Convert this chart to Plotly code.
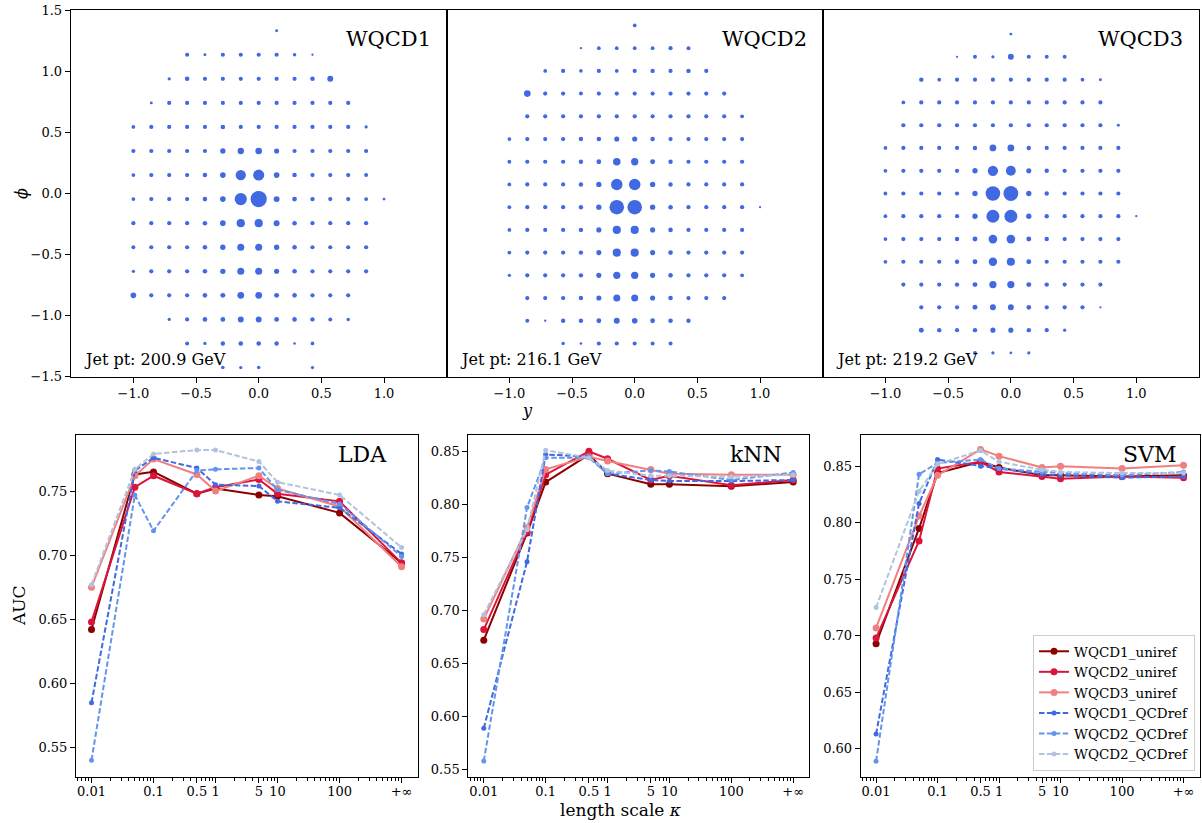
import math
import plotly.graph_objects as go

# ---------------- top row: jet images ----------------
COL_Y = [-1.0, -0.857, -0.714, -0.571, -0.429, -0.286, -0.143, 0.0,
         0.143, 0.286, 0.429, 0.571, 0.714, 0.857, 1.0]

PHI_1 = [1.333, 1.136, 0.939, 0.742, 0.545, 0.348, 0.151, -0.046,
         -0.243, -0.440, -0.637, -0.834, -1.031, -1.228, -1.425]
PT_1 = [
    [0, 0, 0, 0, 0, 0, 0, 0, 0.5, 0, 0, 0, 0, 0, 0],
    [0, 0, 0, 1, 0.5, 1, 1, 1, 1, 0.7, 0.3, 0, 0, 0, 0],
    [0, 0, 0.6, 1.2, 1, 1, 1, 1, 1, 1, 1.2, 2, 0, 0, 0],
    [0, 0.5, 1, 1, 1, 1, 1, 1, 1, 1, 1, 1, 1, 0, 0],
    [0.8, 1, 1, 1, 1, 1.2, 1, 1, 1, 1, 1, 1, 1, 0.6, 0],
    [1, 1, 1, 1, 1, 1.6, 2.3, 2.5, 1.5, 1, 1, 1, 1, 1, 0],
    [0.8, 1, 1, 1, 1.2, 1.8, 6, 7, 1.8, 1.2, 1, 1, 1, 0.9, 0],
    [0.8, 1, 1, 1, 1.2, 1.8, 8.5, 15, 2, 1.3, 1.1, 1, 1, 0.9, 0.5],
    [1, 1, 1, 1, 1.2, 1.8, 3.8, 3.8, 2, 1.2, 1, 1, 1, 1, 0],
    [0.9, 1, 1, 1, 1.2, 1.6, 2.8, 2.8, 1.6, 1.2, 1, 1, 1, 1, 0],
    [0.6, 1, 1, 1, 1.2, 1.6, 2.8, 2.8, 1.5, 1.2, 1, 1, 1, 1, 0],
    [1.8, 1, 1, 1, 1.2, 1.4, 2.6, 2.6, 1.4, 1.2, 1, 1, 1, 0, 0],
    [0, 0, 0.6, 1, 1.2, 1.3, 2, 2, 1.3, 1.2, 1.1, 0.9, 0.7, 0, 0],
    [0, 0, 0, 0.9, 0.6, 1.1, 1.2, 1.2, 1.1, 0.4, 0.8, 0, 0, 0, 0],
    [0, 0, 0, 0, 0, 0.7, 0.6, 0.7, 0, 0, 0.6, 0, 0, 0, 0],
]

PHI_2 = [1.376, 1.190, 1.004, 0.818, 0.632, 0.446, 0.260, 0.074,
         -0.112, -0.298, -0.484, -0.670, -0.856, -1.042, -1.228]
PT_2 = [
    [0, 0, 0, 0, 0, 0, 0, 0.8, 0, 0, 0, 0, 0, 0, 0],
    [0, 0, 0, 0, 0.3, 0.8, 0.8, 0.8, 0.8, 1, 0.9, 0, 0, 0, 0],
    [0, 0, 0.8, 1, 0.7, 1, 0.8, 1, 1.1, 1, 1.1, 1, 0, 0, 0],
    [0, 2.5, 1, 1, 0.9, 1, 1, 1, 1, 1, 1, 1, 1, 0, 0],
    [0, 1, 1, 1, 1, 1, 1, 1, 1, 1, 1, 1, 1, 0.8, 0],
    [0.8, 1, 1, 1, 1.1, 1.2, 1.5, 1.5, 1.2, 1, 1, 1, 1, 1, 0],
    [0.8, 1, 1, 1, 1.1, 1.3, 3.2, 3, 1.4, 1.1, 1, 1, 1, 1, 0],
    [0.8, 1, 1, 1, 1.1, 1.6, 7.5, 7.5, 1.6, 1.1, 1, 1, 1, 1, 0],
    [0.8, 1, 1, 1, 1.1, 1.6, 12, 12, 1.6, 1.2, 1, 1, 1, 1, 0.3],
    [0.8, 1, 1, 1, 1.1, 1.5, 3.8, 3.8, 1.5, 1.2, 1, 1, 1, 1, 0],
    [0.8, 1, 1, 1, 1.1, 1.5, 3.8, 3.8, 1.5, 1.2, 1, 1, 1, 1, 0],
    [0.6, 1, 1, 1, 1.1, 1.5, 3, 3, 1.5, 1.2, 1, 1, 1, 0.8, 0],
    [0, 1, 1, 1, 1.1, 1.5, 2.8, 2.8, 1.5, 1.2, 1, 1, 1, 0, 0],
    [0, 0.9, 0.3, 1.1, 1.1, 1.3, 2, 1.8, 1.3, 1.2, 1.1, 0, 0, 0, 0],
    [0, 0, 0, 0.7, 0.4, 1, 1, 1, 0.9, 0.9, 0, 0, 0, 0, 0],
]

PHI_3 = [1.305, 1.119, 0.932, 0.746, 0.559, 0.373, 0.186, 0.0,
         -0.186, -0.373, -0.559, -0.746, -0.932, -1.119, -1.305]
PT_3 = [
    [0, 0, 0, 0, 0, 0, 0, 0.5, 0, 0, 0, 0, 0, 0, 0],
    [0, 0, 0, 0, 0.3, 0.9, 0.6, 2, 0.9, 0.9, 0.9, 0, 0, 0, 0],
    [0, 0, 1.1, 0.8, 1, 1, 1, 1, 1, 1, 1, 0.8, 0.5, 0, 0],
    [0, 0.8, 1, 1, 1, 1, 1, 1, 1, 1, 1, 1, 1, 0, 0],
    [0, 1, 1, 1, 1, 1, 1, 1, 1, 1, 1, 1, 1, 0.5, 0],
    [0.8, 1, 1, 1, 1, 1.1, 2.6, 2.6, 1.1, 1, 1, 1, 1, 1, 0],
    [0.8, 1, 1, 1, 1, 1.6, 6, 5.5, 1.5, 1.1, 1, 1, 1, 1, 0],
    [0.8, 1, 1, 1, 1, 1.6, 12, 12.5, 1.6, 1.1, 1, 1, 1, 1, 0],
    [0.8, 1, 1, 1, 1, 1.6, 9.5, 9.5, 1.6, 1.1, 1, 1, 1, 1, 0.3],
    [0.8, 1, 1, 1, 1.1, 1.4, 4.3, 4.3, 1.4, 1.1, 1, 1, 1, 1, 0],
    [0.8, 1, 1, 1, 1.1, 1.4, 4, 3.8, 1.4, 1, 1, 1, 1, 1, 0],
    [0, 1, 1, 1, 1.1, 1.4, 3, 3, 1.4, 1.1, 1, 1, 1, 0, 0],
    [0, 0, 1, 1, 1, 1.4, 2, 2, 1.2, 1, 1, 1, 0.3, 0, 0],
    [0, 0, 1.4, 1.1, 1, 1.1, 1.5, 1.5, 1.1, 1, 0.6, 0, 0, 0, 0],
    [0, 0, 0, 0, 0, 0.9, 0.6, 0.4, 0.6, 0, 0, 0, 0, 0, 0],
]

JET_NAMES = ["WQCD1", "WQCD2", "WQCD3"]
JET_PT = ["Jet pt: 200.9 GeV", "Jet pt: 216.1 GeV", "Jet pt: 219.2 GeV"]

# ---------------- bottom row: AUC vs length scale ----------------
KAPPA = [0.01, 0.05, 0.1, 0.5, 1, 5, 10, 100, 1000]   # +inf drawn at 1000
KAPPA_TICKS = [0.01, 0.1, 0.5, 1, 5, 10, 100, 1000]
KAPPA_LABELS = ["0.01", "0.1", "0.5", "1", "5", "10", "100", "+∞"]

SERIES = ["WQCD1_uniref", "WQCD2_uniref", "WQCD3_uniref",
          "WQCD1_QCDref", "WQCD2_QCDref", "WQCD2_QCDref"]

LDA = [
    [0.642, 0.763, 0.765, 0.748, 0.752, 0.747, 0.746, 0.733, 0.694],
    [0.648, 0.753, 0.762, 0.748, 0.753, 0.759, 0.748, 0.742, 0.694],
    [0.675, 0.762, 0.775, 0.763, 0.750, 0.762, 0.752, 0.738, 0.691],
    [0.585, 0.766, 0.776, 0.768, 0.755, 0.754, 0.742, 0.737, 0.701],
    [0.540, 0.747, 0.719, 0.766, 0.767, 0.768, 0.751, 0.740, 0.699],
    [0.677, 0.767, 0.779, 0.782, 0.782, 0.773, 0.757, 0.747, 0.706],
]
KNN = [
    [0.672, 0.773, 0.821, 0.847, 0.829, 0.819, 0.819, 0.817, 0.821],
    [0.682, 0.774, 0.828, 0.850, 0.843, 0.823, 0.827, 0.818, 0.823],
    [0.692, 0.778, 0.833, 0.845, 0.841, 0.833, 0.829, 0.828, 0.828],
    [0.589, 0.746, 0.847, 0.845, 0.829, 0.823, 0.822, 0.822, 0.823],
    [0.558, 0.797, 0.844, 0.844, 0.829, 0.832, 0.831, 0.823, 0.830],
    [0.696, 0.776, 0.851, 0.844, 0.832, 0.827, 0.827, 0.826, 0.828],
]
SVM = [
    [0.693, 0.795, 0.844, 0.854, 0.849, 0.842, 0.842, 0.841, 0.842],
    [0.698, 0.784, 0.848, 0.854, 0.845, 0.841, 0.839, 0.841, 0.840],
    [0.707, 0.806, 0.842, 0.865, 0.859, 0.849, 0.850, 0.848, 0.851],
    [0.613, 0.817, 0.856, 0.850, 0.848, 0.843, 0.842, 0.840, 0.841],
    [0.589, 0.843, 0.853, 0.856, 0.848, 0.845, 0.844, 0.842, 0.845],
    [0.725, 0.828, 0.852, 0.864, 0.854, 0.847, 0.845, 0.844, 0.844],
]
METHODS = ["LDA", "kNN", "SVM"]
Y_TICKS = [[0.55, 0.60, 0.65, 0.70, 0.75],
           [0.55, 0.60, 0.65, 0.70, 0.75, 0.80, 0.85],
           [0.60, 0.65, 0.70, 0.75, 0.80, 0.85]]
Y_RANGES = [[0.527, 0.794], [0.543, 0.8657], [0.575, 0.878]]

# ---------------- styling ----------------
W, H = 1202, 823
FONT = "DejaVu Serif"
COLORS = ["#8B0000", "#DC143C", "#F08080", "#4169E1", "#6495ED", "#B0C4DE"]
DOT = "#4169E1"


def fx(p):
    return p / W


def fy(p):
    return 1 - p / H


TOP_X = [(70.7, 446.7), (446.7, 822.7), (822.7, 1199.0)]
TOP_Y = (376.7, 10.3)
BOT_X = [(76.0, 417.7), (468.3, 809.3), (860.7, 1199.5)]
BOT_Y = (777.0, 434.7)

fig = go.Figure()
layout = dict(
    width=W, height=H, margin=dict(l=0, r=0, t=0, b=0),
    paper_bgcolor="white", plot_bgcolor="white",
    font=dict(family=FONT, size=13, color="black"),
    showlegend=True,
)

axis_common = dict(showline=True, linecolor="black", linewidth=1, mirror=True,
                   showgrid=False, zeroline=False, ticks="outside", ticklen=5,
                   tickwidth=1, tickcolor="black", automargin=False,
                   tickfont=dict(family=FONT, size=13, color="black"))

annotations = []

for i, (phis, grid) in enumerate([(PHI_1, PT_1), (PHI_2, PT_2), (PHI_3, PT_3)]):
    xs, ys, ss = [], [], []
    for phi, row in zip(phis, grid):
        for yv, v in zip(COL_Y, row):
            if v > 0:
                xs.append(yv)
                ys.append(phi)
                ss.append(4.2 * math.sqrt(v))
    n = i + 1
    xa = "x" if n == 1 else f"x{n}"
    ya = "y" if n == 1 else f"y{n}"
    fig.add_trace(go.Scatter(x=xs, y=ys, mode="markers", xaxis=xa, yaxis=ya,
                             marker=dict(size=ss, color=DOT, opacity=1, line=dict(width=0)),
                             showlegend=False, hoverinfo="skip"))
    key = "" if n == 1 else str(n)
    layout[f"xaxis{key}"] = dict(axis_common, domain=[fx(TOP_X[i][0]), fx(TOP_X[i][1])],
                                 range=[-1.5, 1.5], anchor=ya,
                                 tickvals=[-1.0, -0.5, 0.0, 0.5, 1.0], tickformat=".1f")
    yax = dict(axis_common, domain=[fy(TOP_Y[0]), fy(TOP_Y[1])], range=[-1.5, 1.5],
               anchor=xa, tickvals=[-1.5, -1.0, -0.5, 0.0, 0.5, 1.0, 1.5], tickformat=".1f")
    if n > 1:
        yax.update(showticklabels=False, ticks="")
    layout[f"yaxis{key}"] = yax
    annotations.append(dict(text=JET_NAMES[i], xref="paper", yref="paper",
                            x=fx(TOP_X[i][1] - 14), y=fy(39), xanchor="right", yanchor="middle",
                            showarrow=False, font=dict(family=FONT, size=21, color="black")))
    annotations.append(dict(text=JET_PT[i], xref="paper", yref="paper",
                            x=fx(TOP_X[i][0] + 11), y=fy(359), xanchor="left", yanchor="middle",
                            showarrow=False, font=dict(family=FONT, size=16, color="black")))

minor_vals = []
for dec in [0.001, 0.01, 0.1, 1, 10, 100, 1000]:
    for m in range(2, 10):
        minor_vals.append(m * dec)

for j, data in enumerate([LDA, KNN, SVM]):
    n = j + 4
    xa, ya = f"x{n}", f"y{n}"
    for s, (name, vals) in enumerate(zip(SERIES, data)):
        uni = s < 3
        fig.add_trace(go.Scatter(
            x=KAPPA, y=vals, mode="lines+markers", name=name, xaxis=xa, yaxis=ya,
            line=dict(color=COLORS[s], width=2, dash="solid" if uni else "5.5px,2.4px"),
            marker=dict(size=7 if uni else 5, color=COLORS[s]),
            showlegend=(j == 2), hoverinfo="skip"))
    layout[f"xaxis{n}"] = dict(axis_common, type="log",
                               domain=[fx(BOT_X[j][0]), fx(BOT_X[j][1])],
                               range=[-2.25, 3.26], anchor=ya,
                               tickvals=KAPPA_TICKS, ticktext=KAPPA_LABELS,
                               ticklabelstandoff=-3,
                               minor=dict(tickmode="array", tickvals=minor_vals,
                                          ticks="outside", ticklen=2.5, tickcolor="black",
                                          showgrid=False))
    layout[f"yaxis{n}"] = dict(axis_common, domain=[fy(BOT_Y[0]), fy(BOT_Y[1])],
                               range=Y_RANGES[j], anchor=xa,
                               tickvals=Y_TICKS[j], tickformat=".2f")
    annotations.append(dict(text=METHODS[j], xref="paper", yref="paper",
                            x=fx(BOT_X[j][1] - [29, 25, 21][j]), y=fy(455),
                            xanchor="right", yanchor="middle", showarrow=False,
                            font=dict(family=FONT, size=22, color="black")))

# axis titles
annotations += [
    dict(text="<i>y</i>", xref="paper", yref="paper", x=fx(527), y=fy(410),
         xanchor="center", yanchor="middle", showarrow=False,
         font=dict(family=FONT, size=16, color="black")),
    dict(text="<i>ϕ</i>", xref="paper", yref="paper", x=fx(21), y=fy(193),
         xanchor="center", yanchor="middle", showarrow=False, textangle=-90,
         font=dict(family=FONT, size=16, color="black")),
    dict(text="AUC", xref="paper", yref="paper", x=fx(19), y=fy(606),
         xanchor="center", yanchor="middle", showarrow=False, textangle=-90,
         font=dict(family=FONT, size=17, color="black")),
    dict(text="length scale <i>κ</i>", xref="paper", yref="paper", x=fx(620), y=fy(810),
         xanchor="center", yanchor="middle", showarrow=False,
         font=dict(family=FONT, size=17, color="black")),
]
layout["annotations"] = annotations
layout["legend"] = dict(x=fx(1195), y=fy(771), xanchor="right", yanchor="bottom",
                        bgcolor="rgba(255,255,255,0.85)", bordercolor="#cccccc",
                        borderwidth=1, font=dict(family=FONT, size=13.5, color="black"),
                        tracegroupgap=0, itemwidth=30)

fig.update_layout(**layout)
fig.write_html("out.html")
